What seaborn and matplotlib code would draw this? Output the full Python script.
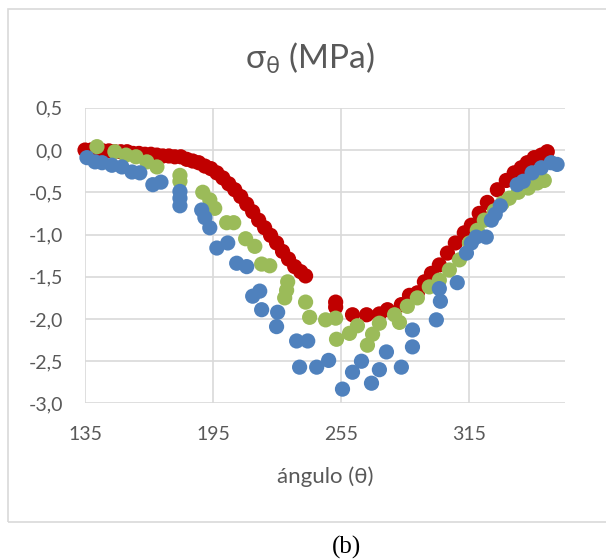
import pandas as pd
import matplotlib
matplotlib.use("Agg")
import matplotlib.pyplot as plt
import seaborn as sns
from matplotlib.patches import Rectangle
from matplotlib.ticker import FuncFormatter

# angle (degrees) and stress (MPa)
red_x = [135.0, 137.8, 140.6, 143.4, 146.2, 149.0, 151.8, 154.7, 157.5, 160.3, 163.1, 165.9,
         168.7, 171.5, 174.3, 177.1, 179.9, 182.7, 185.5, 188.3, 191.2, 194.0, 196.8, 199.6,
         202.4, 205.2, 208.0, 210.8, 213.6, 216.4, 219.2, 222.0, 224.8, 227.6, 230.4, 233.3,
         236.1, 238.4, 252.5, 252.5, 260.4, 267.0, 273.0, 276.8, 283.3, 287.1, 290.8, 294.1,
         297.4, 301.1, 304.9, 308.6, 312.8, 316.1, 319.8, 323.6, 328.3, 332.5, 336.2, 339.5,
         342.3, 345.6, 348.9, 351.7]
red_y = [0.00, 0.00, -0.01, -0.01, -0.01, -0.02, -0.02, -0.02, -0.04, -0.04, -0.05, -0.05,
         -0.06, -0.07, -0.07, -0.08, -0.08, -0.11, -0.13, -0.15, -0.19, -0.22, -0.27, -0.33,
         -0.40, -0.47, -0.55, -0.64, -0.73, -0.83, -0.92, -1.01, -1.10, -1.20, -1.29, -1.38,
         -1.44, -1.49, -1.80, -1.86, -1.95, -1.95, -1.94, -1.89, -1.83, -1.72, -1.69, -1.56,
         -1.46, -1.36, -1.22, -1.10, -0.98, -0.89, -0.75, -0.62, -0.47, -0.36, -0.27, -0.21,
         -0.15, -0.09, -0.06, -0.02]

green_x = [140.6, 149.0, 154.2, 158.9, 164.0, 168.7, 179.5, 179.5, 190.2, 193.5, 195.8, 201.4,
           204.7, 210.3, 214.6, 217.8, 221.6, 230.0, 229.5, 228.6, 238.4, 240.3, 247.8, 252.5,
           252.9, 259.0, 262.7, 267.4, 269.8, 273.0, 280.1, 282.4, 286.1, 290.8, 296.4, 301.1,
           305.8, 310.5, 315.2, 318.9, 322.2, 326.9, 330.6, 333.9, 338.1, 342.8, 347.0, 350.3]
green_y = [0.04, -0.02, -0.06, -0.08, -0.14, -0.20, -0.30, -0.37, -0.50, -0.59, -0.69, -0.86,
           -0.86, -1.05, -1.14, -1.35, -1.37, -1.56, -1.66, -1.75, -1.80, -1.98, -2.01, -1.99,
           -2.24, -2.17, -2.08, -2.31, -2.18, -2.05, -1.95, -2.04, -1.85, -1.75, -1.62, -1.54,
           -1.42, -1.30, -1.10, -0.95, -0.83, -0.72, -0.63, -0.57, -0.50, -0.45, -0.39, -0.36]

blue_x = [135.9, 139.7, 143.0, 147.6, 152.3, 157.0, 160.7, 166.8, 170.6, 179.5, 179.5, 179.5,
          189.7, 191.2, 193.5, 196.8, 201.9, 206.1, 210.8, 213.6, 216.9, 217.8, 225.3, 224.8,
          234.2, 239.4, 235.6, 243.6, 249.2, 255.7, 260.4, 264.6, 269.3, 273.0, 276.3, 283.3,
          288.5, 288.5, 299.7, 301.6, 301.1, 309.5, 313.8, 316.1, 318.4, 323.1, 325.5, 327.3,
          329.7, 337.6, 340.4, 344.6, 348.9, 353.5, 356.3]
blue_y = [-0.09, -0.14, -0.15, -0.18, -0.20, -0.26, -0.27, -0.41, -0.38, -0.49, -0.57, -0.66,
          -0.71, -0.80, -0.92, -1.16, -1.10, -1.34, -1.38, -1.73, -1.67, -1.89, -1.92, -2.09,
          -2.26, -2.26, -2.57, -2.57, -2.49, -2.83, -2.63, -2.50, -2.76, -2.60, -2.39, -2.57,
          -2.13, -2.33, -2.01, -1.79, -1.64, -1.57, -1.22, -1.10, -1.03, -1.03, -0.83, -0.76,
          -0.66, -0.41, -0.37, -0.27, -0.21, -0.15, -0.17]

x_ticks = [135, 195, 255, 315]
y_ticks = [0.5, 0.0, -0.5, -1.0, -1.5, -2.0, -2.5, -3.0]

df = pd.concat([
    pd.DataFrame({"ang": red_x, "sig": red_y, "serie": "r"}),
    pd.DataFrame({"ang": green_x, "sig": green_y, "serie": "g"}),
    pd.DataFrame({"ang": blue_x, "sig": blue_y, "serie": "b"}),
])

sns.set_style("white")
plt.rcParams["font.family"] = ["Lato", "DejaVu Sans"]
plt.rcParams["mathtext.default"] = "regular"
txt = "#595959"

fig = plt.figure(figsize=(6.06, 5.6), dpi=100)
ax = fig.add_axes([0.1403, 0.2795, 0.792, 0.528])

sns.scatterplot(data=df, x="ang", y="sig", hue="serie",
                palette={"r": "#C00000", "g": "#9BBB59", "b": "#4F81BD"},
                s=120, linewidth=0, legend=False, ax=ax, zorder=3, clip_on=False)

ax.set_xlim(135, 360)
ax.set_ylim(-3.0, 0.5)
ax.set_xticks(x_ticks)
ax.set_yticks(y_ticks)
ax.yaxis.set_major_formatter(FuncFormatter(lambda v, p: f"{v:.1f}".replace(".", ",").replace("-0,0", "0,0")))
ax.grid(True, color="#D9D9D9", linewidth=1.2)
for s in ax.spines.values():
    s.set_visible(False)
ax.tick_params(length=0, labelsize=14, labelcolor=txt)
ax.tick_params(axis="x", pad=16)
ax.tick_params(axis="y", pad=16)
ax.set_xlabel("")
ax.set_ylabel("")

fig.text(0.512, 0.896, r"σ$_{θ}$ (MPa)", ha="center", va="center", fontsize=24, color=txt)
fig.text(0.536, 0.148, "ángulo (θ)", ha="center", va="center", fontsize=16, color=txt)
fig.text(0.5726, 0.023, "(b)", ha="center", va="center", fontsize=18,
         family="Liberation Serif", color="black")

fig.patches.append(Rectangle((0.0127, 0.068), 1.02, 0.9154, transform=fig.transFigure,
                             fill=False, edgecolor="#D9D9D9", linewidth=1.2, clip_on=False))

fig.savefig("out.png", dpi=100, facecolor="white")
